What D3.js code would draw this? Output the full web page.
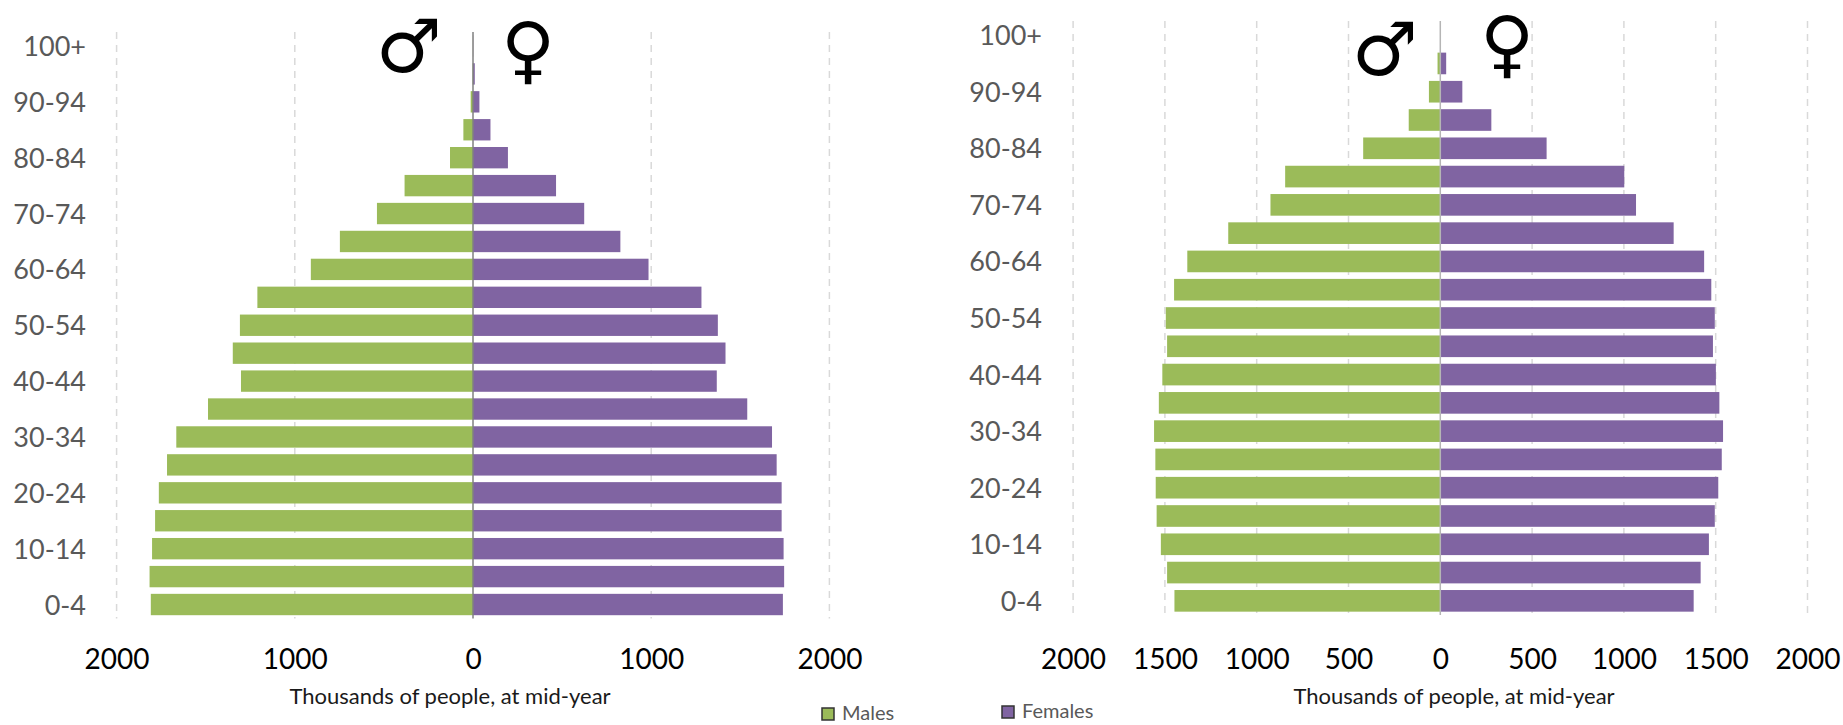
<!DOCTYPE html>
<html>
<head>
<meta charset="utf-8">
<script src="https://cdn.jsdelivr.net/npm/d3@7"></script>
<style>
body { margin: 0; background: #fff; overflow: hidden; }
text { font-family: Lato, "Open Sans", sans-serif; }
</style>
</head>
<body>
<script>
// youngest first, so index 0 sits at the bottom
const ageGroups = ["0-4","5-9","10-14","15-19","20-24","25-29","30-34","35-39","40-44","45-49","50-54",
    "55-59","60-64","65-69","70-74","75-79","80-84","85-89","90-94","95-99","100+"];

const leftMales = [1808,1815,1801,1784,1763,1717,1665,1487,1302,1348,1308,1210,910,747,539,384,129,54,13,2,0.5];
const leftFemales = [1739,1746,1743,1732,1732,1704,1678,1539,1368,1417,1374,1282,985,827,624,466,196,98,36,10,1];
const leftTicks = [-2000,-1000,0,1000,2000];

const rightMales = [1448,1488,1522,1545,1550,1552,1559,1533,1514,1488,1495,1450,1378,1155,925,845,420,172,62,15,0];
const rightFemales = [1380,1418,1463,1495,1514,1533,1540,1520,1501,1485,1495,1476,1437,1271,1066,1002,579,278,120,32,0];
const rightTicks = [-2000,-1500,-1000,-500,0,500,1000,1500,2000];

const axisTitle = "Thousands of people, at mid-year";
const green = "#9bbb59", purple = "#8064a2";

const svg = d3.select("body").append("svg")
    .attr("width", 1843)
    .attr("height", 725);

drawPyramid({males: leftMales, females: leftFemales, ticks: leftTicks,
    x0: 473, perK: 178.2, top: 32, bottom: 618.5, labelX: 86, axisColor: "#808080", titleX: 450});
drawPyramid({males: rightMales, females: rightFemales, ticks: rightTicks,
    x0: 1440.3, perK: 183.6, top: 21, bottom: 615, labelX: 1042, axisColor: "#b5b5b5", titleX: 1454});

drawSymbol("\u2642", 409, 72);
drawSymbol("\u2640", 528, 75);
drawSymbol("\u2642", 1385, 75);
drawSymbol("\u2640", 1507, 69);

drawLegend();

function drawPyramid(c)
{
    const extent = d3.extent(c.ticks);
    const xScale = d3.scaleLinear()
        .domain(extent)
        .range([c.x0 + extent[0] * c.perK / 1000, c.x0 + extent[1] * c.perK / 1000]);

    const yScale = d3.scaleBand()
        .domain(ageGroups)
        .range([c.bottom, c.top])
        .paddingInner(0.235)
        .paddingOuter(0.118);

    const g = svg.append("g");

    g.selectAll(".grid")
        .data(c.ticks.filter(d => d != 0))
        .enter()
        .append("line")
        .attr("x1", d => xScale(d))
        .attr("x2", d => xScale(d))
        .attr("y1", c.top)
        .attr("y2", c.bottom)
        .attr("stroke", "#d9d9d9")
        .attr("stroke-width", 1.5)
        .attr("stroke-dasharray", "7 6");

    g.selectAll(".male")
        .data(c.males)
        .enter()
        .append("rect")
        .attr("x", d => xScale(-d))
        .attr("y", (d, i) => yScale(ageGroups[i]))
        .attr("width", d => xScale(0) - xScale(-d))
        .attr("height", yScale.bandwidth())
        .attr("fill", green);

    g.selectAll(".female")
        .data(c.females)
        .enter()
        .append("rect")
        .attr("x", xScale(0))
        .attr("y", (d, i) => yScale(ageGroups[i]))
        .attr("width", d => xScale(d) - xScale(0))
        .attr("height", yScale.bandwidth())
        .attr("fill", purple);

    g.append("line")
        .attr("x1", xScale(0))
        .attr("x2", xScale(0))
        .attr("y1", c.top)
        .attr("y2", c.bottom)
        .attr("stroke", c.axisColor)
        .attr("stroke-width", 1.5);

    const yAxis = g.append("g")
        .attr("transform", "translate(" + c.labelX + ",0)")
        .call(d3.axisLeft(yScale)
            .tickSize(0)
            .tickPadding(0)
            .tickFormat((d, i) => i % 2 == 0 ? d : ""));
    yAxis.select(".domain").remove();
    yAxis.selectAll(".tick text")
        .attr("font-size", 27)
        .attr("dy", "0.37em")
        .attr("fill", "#595959");

    const xAxis = g.append("g")
        .attr("transform", "translate(0," + 649 + ")")
        .call(d3.axisBottom(xScale)
            .tickValues(c.ticks)
            .tickSize(0)
            .tickPadding(0)
            .tickFormat(d => Math.abs(d)));
    xAxis.select(".domain").remove();
    xAxis.selectAll(".tick text")
        .attr("font-size", 28)
        .attr("fill", "#000");

    g.append("text")
        .attr("x", c.titleX)
        .attr("y", 704)
        .attr("text-anchor", "middle")
        .attr("font-size", 22)
        .attr("fill", "#1a1a1a")
        .text(axisTitle);
}

function drawSymbol(glyph, x, y)
{
    svg.append("text")
        .attr("x", x)
        .attr("y", y)
        .attr("text-anchor", "middle")
        .attr("font-size", 74)
        .attr("fill", "#000")
        .style("font-family", "'DejaVu Sans'")
        .text(glyph);
}

function drawLegend()
{
    const items = [{name: "Males", color: green, x: 822, y: 708}, {name: "Females", color: purple, x: 1002, y: 706}];

    const legend = svg.selectAll(".legend")
        .data(items)
        .enter()
        .append("g")
        .attr("transform", d => "translate(" + d.x + "," + d.y + ")");

    legend.append("rect")
        .attr("width", 12)
        .attr("height", 12)
        .attr("fill", d => d.color)
        .attr("stroke", "#333")
        .attr("stroke-width", 1.5);

    legend.append("text")
        .attr("x", 20)
        .attr("y", 12)
        .attr("font-size", 20)
        .attr("fill", "#595959")
        .text(d => d.name);
}
</script>
</body>
</html>
